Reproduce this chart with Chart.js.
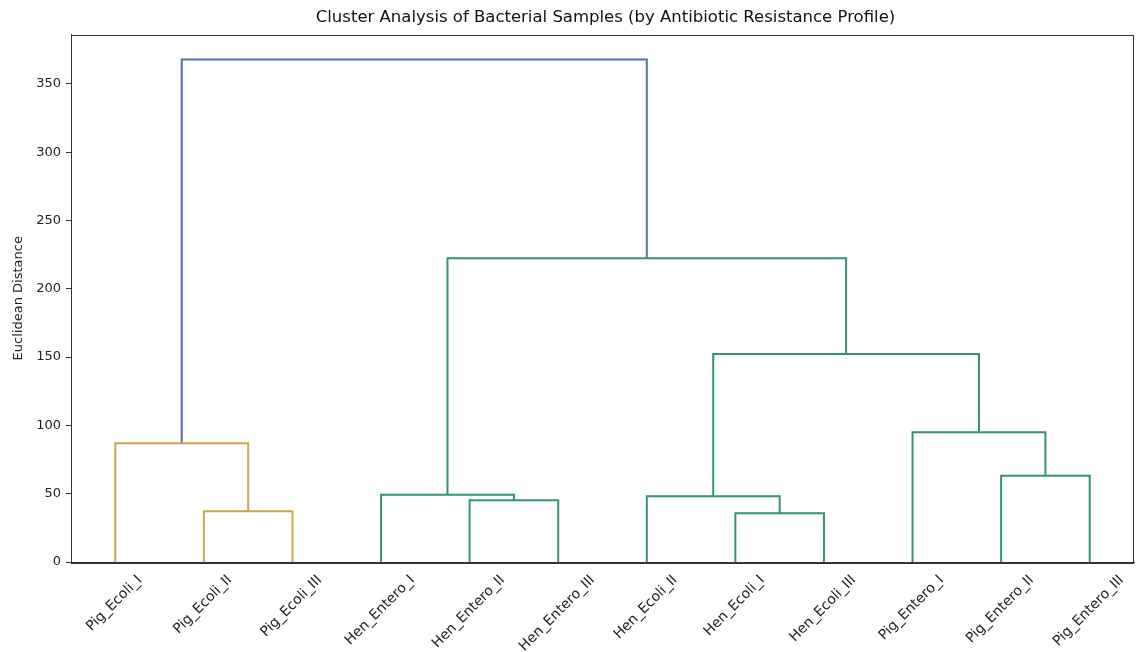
<!DOCTYPE html>
<html>
<head>
<meta charset="utf-8">
<script src="https://cdn.jsdelivr.net/npm/chart.js@4.4.1/dist/chart.umd.min.js"></script>
<style>
  html, body { margin: 0; padding: 0; background: #ffffff; }
  #wrap { width: 1137px; height: 652px; }
</style>
</head>
<body>
<div id="wrap"><canvas id="chart" width="1137" height="652"></canvas></div>
<script>
// Leaves in dendrogram order (left to right)
const leafLabels = [
  'Pig_Ecoli_I', 'Pig_Ecoli_II', 'Pig_Ecoli_III',
  'Hen_Entero_I', 'Hen_Entero_II', 'Hen_Entero_III',
  'Hen_Ecoli_II', 'Hen_Ecoli_I', 'Hen_Ecoli_III',
  'Pig_Entero_I', 'Pig_Entero_II', 'Pig_Entero_III'
];

// Linkage: node ids 0-11 are leaves, merge k creates node 12 + k
const mergeLeft   = [7, 1, 4, 6, 3, 10, 0, 9, 15, 16, 18];
const mergeRight  = [8, 2, 5, 12, 14, 11, 13, 17, 19, 20, 21];
const mergeHeight = [35.6, 37.1, 45.2, 48.1, 49.3, 63.2, 86.9, 95.0, 152.3, 222.4, 367.8];

// Y axis ticks (Euclidean distance)
const yTicks = [0, 50, 100, 150, 200, 250, 300, 350];

const TITLE = 'Cluster Analysis of Bacterial Samples (by Antibiotic Resistance Profile)';
const FONT = "'DejaVu Sans', sans-serif";
const AXIS_COLOR = '#333333';
const ABOVE_COLOR = '#5571a8';
const CLUSTER_COLORS = ['#cfa54c', '#35907a'];

// Leaf positions follow the usual dendrogram convention: 5, 15, 25, ...
const leafPos = leafLabels.map((_, i) => 5 + 10 * i);
const nLeaves = leafLabels.length;
const topHeight = Math.max(...mergeHeight);
const colorThreshold = 0.7 * topHeight;

// Node x / height lookup
const nodeX = leafPos.slice();
const nodeH = leafPos.map(() => 0);
mergeHeight.forEach((h, k) => {
  nodeX.push((nodeX[mergeLeft[k]] + nodeX[mergeRight[k]]) / 2);
  nodeH.push(h);
});

// Assign a colour to every merge below the threshold by its top-level cluster
const mergeColor = new Array(mergeHeight.length).fill(ABOVE_COLOR);
let clusterIdx = 0;
function paint(node, color) {
  if (node < nLeaves) return;
  const k = node - nLeaves;
  mergeColor[k] = color;
  paint(mergeLeft[k], color);
  paint(mergeRight[k], color);
}
function walk(node) {
  if (node < nLeaves) return;
  const k = node - nLeaves;
  if (mergeHeight[k] < colorThreshold) {
    paint(node, CLUSTER_COLORS[clusterIdx % CLUSTER_COLORS.length]);
    clusterIdx++;
  } else {
    walk(mergeLeft[k]);
    walk(mergeRight[k]);
  }
}
walk(nLeaves + mergeHeight.length - 1);

// One U-shaped link per merge
const datasets = mergeHeight.map((h, k) => {
  const a = mergeLeft[k], b = mergeRight[k];
  return {
    data: [
      { x: nodeX[a], y: nodeH[a] },
      { x: nodeX[a], y: h },
      { x: nodeX[b], y: h },
      { x: nodeX[b], y: nodeH[b] }
    ],
    borderColor: mergeColor[k],
    borderWidth: 2,
    pointRadius: 0,
    pointHoverRadius: 0,
    tension: 0,
    fill: false,
    borderJoinStyle: 'miter',
    borderCapStyle: 'butt'
  };
});

// Frame, title and rotated leaf labels
const decorations = {
  id: 'decorations',
  afterDraw(chart) {
    const { ctx, chartArea: a } = chart;
    const xs = chart.scales.x;
    ctx.save();
    ctx.strokeStyle = AXIS_COLOR;
    ctx.lineWidth = 1;
    ctx.strokeRect(Math.round(a.left) + 0.5, Math.round(a.top) + 0.5,
                   Math.round(a.right - a.left) - 1, Math.round(a.bottom - a.top));

    ctx.fillStyle = '#111111';
    ctx.font = '16.5px ' + FONT;
    ctx.textAlign = 'center';
    ctx.textBaseline = 'middle';
    ctx.fillText(TITLE, (a.left + a.right) / 2 + 3, 18);

    const fs = 14;
    ctx.font = fs + 'px ' + FONT;
    ctx.fillStyle = '#222222';
    leafLabels.forEach((label, i) => {
      const px = xs.getPixelForValue(leafPos[i]);
      const w = ctx.measureText(label).width;
      const half = (w + fs) * Math.SQRT1_2 / 2;
      ctx.save();
      ctx.translate(px - 1, xs.top + 11 + half);
      ctx.rotate(-Math.PI / 4);
      ctx.fillText(label, 0, 0);
      ctx.restore();
    });
    ctx.restore();
  }
};

new Chart(document.getElementById('chart'), {
  type: 'line',
  data: { datasets },
  plugins: [decorations],
  options: {
    responsive: false,
    animation: false,
    events: [],
    layout: { padding: { top: 34.5, right: 3, left: 0, bottom: 0 } },
    plugins: {
      legend: { display: false },
      tooltip: { enabled: false },
      title: { display: false }
    },
    scales: {
      x: {
        type: 'linear',
        min: 0,
        max: 10 * nLeaves,
        afterBuildTicks(scale) { scale.ticks = leafPos.map(v => ({ value: v })); },
        afterFit(scale) { scale.height = 90; },
        ticks: { display: false },
        grid: { display: false },
        border: { display: true, color: AXIS_COLOR, width: 1 }
      },
      y: {
        type: 'linear',
        min: 0,
        max: topHeight * 1.05,
        afterBuildTicks(scale) { scale.ticks = yTicks.map(v => ({ value: v })); },
        afterFit(scale) { scale.width = 71; },
        ticks: {
          color: '#222222',
          padding: 5,
          font: { family: FONT, size: 13 }
        },
        grid: {
          display: true,
          drawOnChartArea: false,
          drawTicks: true,
          tickLength: 5,
          tickColor: AXIS_COLOR
        },
        border: { display: true, color: AXIS_COLOR, width: 1 },
        title: {
          display: true,
          text: 'Euclidean Distance',
          color: '#222222',
          font: { family: FONT, size: 13 },
          padding: { top: 11, bottom: 0 }
        }
      }
    }
  }
});
</script>
</body>
</html>
